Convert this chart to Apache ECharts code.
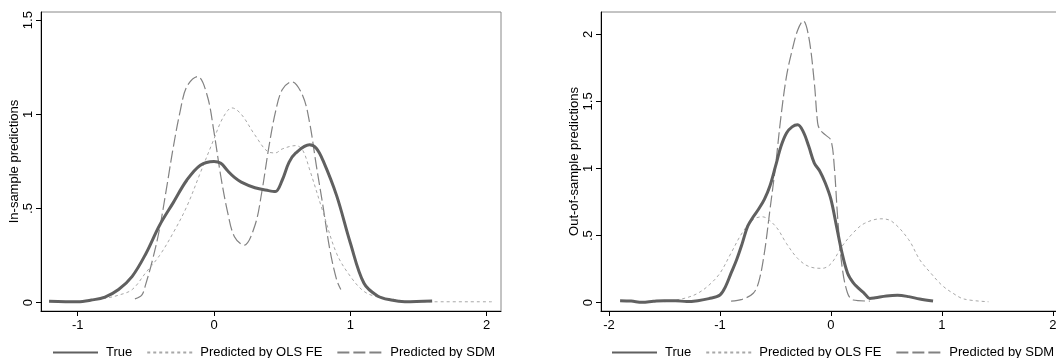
<!DOCTYPE html>
<html><head><meta charset="utf-8">
<script src="https://cdn.jsdelivr.net/npm/echarts@6/dist/echarts.min.js"></script>
<style>html,body{margin:0;padding:0;overflow:hidden;background:#fff}#c{width:1080px;height:358px}</style>
</head><body><div id="c"></div>
<script>
// ---- Data ----
const seriesNames = ['True', 'Predicted by OLS FE', 'Predicted by SDM'];
const xTicks1 = [-1, 0, 1, 2];
const yTicks1 = [0, 0.5, 1, 1.5];
const xTicks2 = [-2, -1, 0, 1, 2];
const yTicks2 = [0, 0.5, 1, 1.5, 2];
const yName1 = 'In-sample predictions';
const yName2 = 'Out-of-sample predictions';

// In-sample panel
const inTrueX = [-1.21,-1.0,-0.9,-0.8,-0.7,-0.6,-0.5,-0.4,-0.3,-0.2,-0.1,0.0,0.05,0.1,0.15,0.2,0.3,0.4,0.45,0.5,0.55,0.6,0.7,0.75,0.8,0.9,1.0,1.1,1.2,1.3,1.4,1.6];
const inTrueY = [0.008,0.005,0.014,0.03,0.07,0.14,0.26,0.41,0.53,0.65,0.73,0.75,0.74,0.70,0.665,0.64,0.61,0.595,0.59,0.65,0.745,0.795,0.838,0.82,0.754,0.567,0.317,0.103,0.036,0.014,0.005,0.009];
const inOlsX = [-0.9,-0.8,-0.7,-0.6,-0.5,-0.4,-0.3,-0.2,-0.1,0.0,0.05,0.1,0.13,0.2,0.3,0.4,0.45,0.5,0.6,0.65,0.7,0.8,0.9,1.0,1.1,1.2,1.3,1.45,1.6,2.05];
const inOlsY = [0.012,0.023,0.04,0.07,0.16,0.25,0.37,0.51,0.69,0.87,0.96,1.02,1.034,1.0,0.89,0.80,0.795,0.816,0.834,0.81,0.71,0.48,0.26,0.14,0.06,0.03,0.02,0.005,0.005,0.005];
const inSdmX = [-0.58,-0.53,-0.5,-0.45,-0.4,-0.35,-0.3,-0.25,-0.2,-0.12,-0.05,0.0,0.05,0.1,0.15,0.22,0.3,0.35,0.4,0.45,0.5,0.57,0.65,0.7,0.75,0.8,0.85,0.9,0.93];
const inSdmY = [0.02,0.04,0.10,0.23,0.39,0.60,0.82,1.01,1.146,1.2,1.10,0.905,0.67,0.48,0.35,0.305,0.41,0.585,0.816,1.01,1.13,1.173,1.10,0.96,0.73,0.51,0.28,0.12,0.07];

// Out-of-sample panel
const outTrueX = [-1.9,-1.8,-1.7,-1.6,-1.5,-1.4,-1.3,-1.2,-1.1,-1.0,-0.95,-0.9,-0.85,-0.8,-0.75,-0.7,-0.65,-0.6,-0.55,-0.5,-0.45,-0.4,-0.35,-0.3,-0.25,-0.2,-0.15,-0.1,-0.05,0.0,0.05,0.1,0.15,0.2,0.25,0.3,0.35,0.4,0.5,0.6,0.7,0.8,0.92];
const outTrueY = [0.015,0.012,0.003,0.01,0.015,0.015,0.008,0.015,0.03,0.057,0.12,0.22,0.32,0.44,0.57,0.64,0.70,0.77,0.87,1.015,1.165,1.264,1.31,1.325,1.275,1.165,1.04,0.98,0.89,0.77,0.57,0.37,0.22,0.15,0.107,0.07,0.032,0.037,0.05,0.055,0.045,0.027,0.012];
const outOlsX = [-1.5,-1.4,-1.3,-1.2,-1.1,-1.0,-0.9,-0.8,-0.7,-0.62,-0.5,-0.4,-0.3,-0.2,-0.08,0.0,0.1,0.2,0.3,0.45,0.55,0.7,0.8,0.9,1.0,1.1,1.2,1.42];
const outOlsY = [0.007,0.02,0.037,0.07,0.13,0.22,0.37,0.52,0.62,0.64,0.57,0.44,0.33,0.27,0.256,0.29,0.42,0.52,0.59,0.625,0.605,0.47,0.32,0.22,0.13,0.07,0.027,0.007];
const outSdmX = [-0.9,-0.8,-0.7,-0.65,-0.6,-0.55,-0.5,-0.45,-0.4,-0.35,-0.3,-0.25,-0.2,-0.15,-0.12,-0.1,-0.05,0.0,0.03,0.06,0.1,0.15,0.2,0.35];
const outSdmY = [0.012,0.025,0.07,0.157,0.37,0.69,1.015,1.39,1.69,1.88,2.03,2.1,1.98,1.64,1.34,1.29,1.25,1.21,1.015,0.64,0.27,0.07,0.02,0.012];

// ---- Build ----
const zip = (xs, ys) => xs.map((x, i) => [x, ys[i]]);
const FONT = 'Liberation Sans, Arial, sans-serif';
const FS = 13;
const styles = [
  {color: '#606060', width: 3, type: 'solid'},
  {color: '#a8a8a8', width: 1, type: [3, 3]},
  {color: '#828282', width: 1.2, type: [12, 4]}
];
const fmtY = v => (v === 0.5 ? '.5' : String(v));

function xAxis(gi, min, max, ticks) {
  return {
    type: 'value', gridIndex: gi, min: min, max: max,
    splitLine: {show: false},
    axisLine: {show: true, onZero: false, lineStyle: {color: '#000', width: 1}},
    axisTick: {show: true, length: 5, customValues: ticks, lineStyle: {color: '#000'}},
    axisLabel: {customValues: ticks, margin: 8, color: '#000', fontSize: FS, fontFamily: FONT,
      formatter: v => String(v)}
  };
}
function yAxis(gi, min, max, ticks, name) {
  return {
    type: 'value', gridIndex: gi, min: min, max: max,
    name: name, nameLocation: 'middle', nameRotate: 90, nameGap: 20,
    nameTextStyle: {color: '#000', fontSize: FS, fontFamily: FONT},
    splitLine: {show: false},
    axisLine: {show: true, onZero: false, lineStyle: {color: '#000', width: 1}},
    axisTick: {show: true, length: 5, customValues: ticks, lineStyle: {color: '#000'}},
    axisLabel: {customValues: ticks, rotate: 90, margin: 6, color: '#000', fontSize: FS, fontFamily: FONT,
      formatter: fmtY}
  };
}
function mkSeries(gi, xs, ys, k) {
  return {
    type: 'line', name: seriesNames[k], xAxisIndex: gi, yAxisIndex: gi,
    data: zip(xs, ys), showSymbol: false, symbol: 'none', smooth: 0.35,
    lineStyle: styles[k], itemStyle: {color: styles[k].color, opacity: 0}, z: 3 - k, animation: false
  };
}
function mkLegend(left) {
  return {
    left: left, top: 346, padding: 0, itemWidth: 45, itemHeight: 10, itemGap: 14,
    itemStyle: {opacity: 0},
    textStyle: {color: '#000', fontSize: FS, fontFamily: FONT, padding: [0, 0, 0, 3]},
    data: seriesNames
  };
}

const option = {
  animation: false,
  backgroundColor: '#fff',
  grid: [
    {left: 41, top: 12, width: 460, height: 299, show: true, borderColor: '#888', borderWidth: 1},
    {left: 601, top: 12, width: 463, height: 299, show: true, borderColor: '#888', borderWidth: 1}
  ],
  xAxis: [xAxis(0, -1.269, 2.105, xTicks1), xAxis(1, -2.072, 2.1, xTicks2)],
  yAxis: [yAxis(0, -0.044, 1.543, yTicks1, yName1), yAxis(1, -0.062, 2.166, yTicks2, yName2)],
  legend: [mkLegend(52), mkLegend(611)],
  series: [
    mkSeries(0, inTrueX, inTrueY, 0),
    mkSeries(0, inOlsX, inOlsY, 1),
    mkSeries(0, inSdmX, inSdmY, 2),
    mkSeries(1, outTrueX, outTrueY, 0),
    mkSeries(1, outOlsX, outOlsY, 1),
    mkSeries(1, outSdmX, outSdmY, 2)
  ]
};
const chart = echarts.init(document.getElementById('c'), null, {renderer: 'canvas'});
chart.setOption(option);
</script></body></html>
